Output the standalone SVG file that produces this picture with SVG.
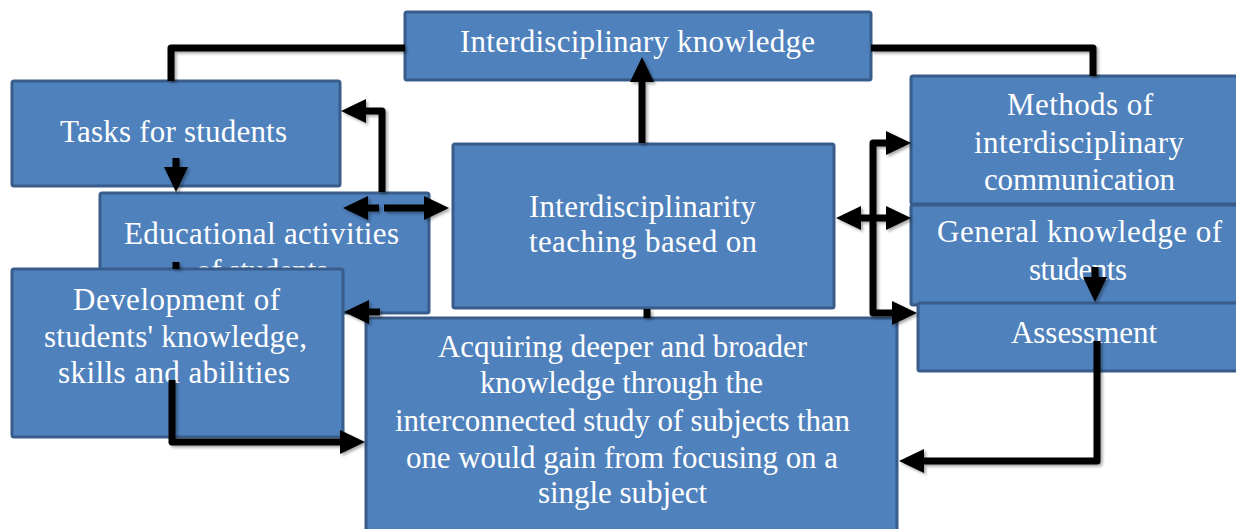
<svg xmlns="http://www.w3.org/2000/svg" width="1236" height="529" viewBox="0 0 1236 529">
<style>
.box{fill:#4F81BD;stroke:#385D8A;stroke-width:3}
.t{font-family:'Liberation Serif','Times New Roman',serif;font-size:31px;fill:#ffffff;text-anchor:middle}
.c{fill:none;stroke:#000;stroke-width:7;stroke-linejoin:round}
</style>
<defs>
<marker id="ah" markerUnits="userSpaceOnUse" markerWidth="26" markerHeight="24" viewBox="0 0 26 24" refX="1" refY="12" orient="auto-start-reverse">
<path d="M0,0 L25,12 L0,24 z" fill="#000"/>
</marker>
<filter id="sh" x="-10%" y="-10%" width="120%" height="120%">
<feDropShadow dx="2" dy="2" stdDeviation="1.5" flood-color="#000" flood-opacity="0.35"/>
</filter>
</defs>
<rect width="1236" height="529" fill="#fff"/>
<g id="n-knowledge"><rect class="box" x="405" y="12" width="466" height="68" rx="2"/><text class="t" x="637.5" y="52" textLength="355" lengthAdjust="spacing">Interdisciplinary knowledge</text></g>
<g id="n-tasks"><rect class="box" x="12" y="81" width="328" height="105" rx="2"/><text class="t" x="173.5" y="142" textLength="227" lengthAdjust="spacing">Tasks for students</text></g>
<g id="n-edu"><rect class="box" x="100" y="193" width="329" height="120" rx="2"/><text class="t" x="261.5" y="244" textLength="275" lengthAdjust="spacing">Educational activities</text><text class="t" x="262" y="281" textLength="132" lengthAdjust="spacing">of students</text></g>
<g id="n-dev"><rect class="box" x="12" y="269" width="331" height="168" rx="2"/><text class="t" x="176.5" y="310" textLength="207" lengthAdjust="spacing">Development of</text><text class="t" x="175.5" y="347" textLength="263" lengthAdjust="spacing">students' knowledge,</text><text class="t" x="174" y="383" textLength="232" lengthAdjust="spacing">skills and abilities</text></g>
<g id="n-center"><rect class="box" x="453" y="144" width="381" height="164" rx="2"/><text class="t" x="642.5" y="217" textLength="227" lengthAdjust="spacing">Interdisciplinarity</text><text class="t" x="643" y="252" textLength="228" lengthAdjust="spacing">teaching based on</text></g>
<g id="n-methods"><rect class="box" x="911" y="76" width="330" height="128" rx="2"/><text class="t" x="1080" y="115" textLength="146" lengthAdjust="spacing">Methods of</text><text class="t" x="1079" y="153" textLength="210" lengthAdjust="spacing">interdisciplinary</text><text class="t" x="1079.5" y="190" textLength="191" lengthAdjust="spacing">communication</text></g>
<g id="n-general"><rect class="box" x="911" y="205" width="330" height="100" rx="2"/><text class="t" x="1079.5" y="242" textLength="285" lengthAdjust="spacing">General knowledge of</text><text class="t" x="1078" y="280" textLength="98" lengthAdjust="spacing">students</text></g>
<g id="n-assess"><rect class="box" x="918" y="303" width="325" height="68" rx="2"/><text class="t" x="1084" y="343" textLength="146" lengthAdjust="spacing">Assessment</text></g>
<g id="n-acquire"><rect class="box" x="366" y="318" width="531" height="216" rx="2"/><text class="t" x="622.5" y="357" textLength="369" lengthAdjust="spacing">Acquiring deeper and broader</text><text class="t" x="621.5" y="393" textLength="283" lengthAdjust="spacing">knowledge through the</text><text class="t" x="622.5" y="431" textLength="455" lengthAdjust="spacing">interconnected study of subjects than</text><text class="t" x="622" y="468" textLength="432" lengthAdjust="spacing">one would gain from focusing on a</text><text class="t" x="622.5" y="503" textLength="169" lengthAdjust="spacing">single subject</text></g>
<g id="connectors" filter="url(#sh)">
<path class="c" d="M405,48 H171 V81"/>
<path class="c" d="M871,48 H1093 V76"/>
<path class="c" d="M642,143 V81" marker-end="url(#ah)"/>
<path class="c" d="M647,309 V318"/>
<path class="c" d="M176,158 V168" marker-end="url(#ah)"/>
<path class="c" d="M382,192 V111 H365" marker-end="url(#ah)"/>
<path class="c" d="M379,208 H367" marker-end="url(#ah)"/>
<path class="c" d="M384,208 H425" marker-end="url(#ah)"/>
<path class="c" d="M380,312 H368" marker-end="url(#ah)"/>
<path class="c" d="M172,380 V442 H341" marker-end="url(#ah)"/>
<path class="c" d="M176,262 V269"/>
<path class="c" d="M887,143 H873 V313 H893" marker-start="url(#ah)" marker-end="url(#ah)"/>
<path class="c" d="M860,218 H887" marker-start="url(#ah)" marker-end="url(#ah)"/>
<path class="c" d="M1095,267 V278" marker-end="url(#ah)"/>
<path class="c" d="M1097,341 V461 H923" marker-end="url(#ah)"/>
</g>
</svg>
